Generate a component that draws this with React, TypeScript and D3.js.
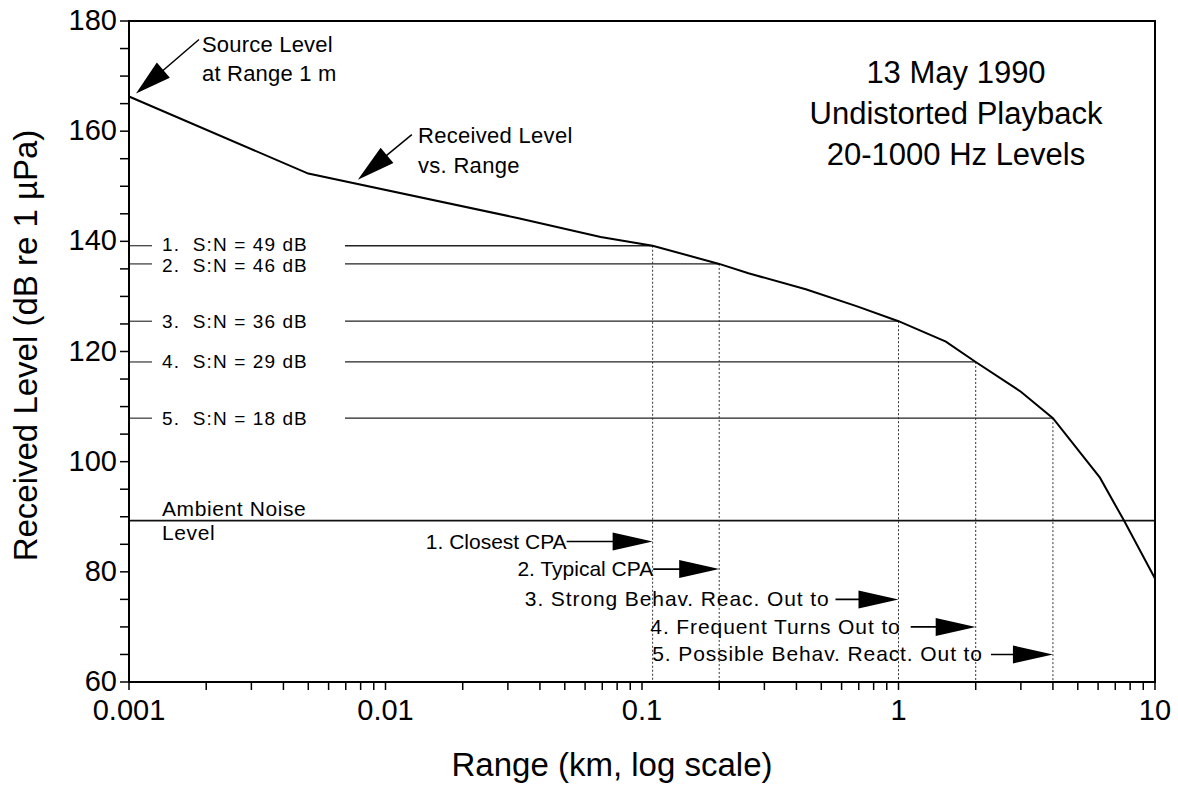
import React from "react";
import * as d3 from "d3";

// received level vs range
const rangeKm = [0.001, 0.005, 0.033, 0.069, 0.11, 0.2, 0.26, 0.435, 0.69, 1, 1.53, 2, 3, 4, 6.1, 7.57, 10];
const levelDb = [166.3, 152.3, 144.2, 140.8, 139.2, 135.9, 134.2, 131.3, 128.2, 125.5, 121.8, 118.1, 112.7, 107.9, 97.1, 89.3, 78.8];

const ambientDb = 89.3;

const snLabels = ["1.  S:N = 49 dB", "2.  S:N = 46 dB", "3.  S:N = 36 dB", "4.  S:N = 29 dB", "5.  S:N = 18 dB"];
const snLevels = [139.2, 135.9, 125.5, 118.1, 107.9];
const snRanges = [0.11, 0.2, 1, 2, 4];

const behavLabels = [
  "1. Closest CPA",
  "2. Typical CPA",
  "3. Strong Behav. Reac. Out to",
  "4. Frequent Turns Out to",
  "5. Possible Behav. React. Out to",
];
const behavLevels = [85.5, 80.5, 75, 70, 65];

const xTickValues = [0.001, 0.01, 0.1, 1, 10];
const xTickLabels = ["0.001", "0.01", "0.1", "1", "10"];
const yTickValues = [60, 80, 100, 120, 140, 160, 180];
const yTickLabels = ["60", "80", "100", "120", "140", "160", "180"];

const titleLines = ["13 May 1990", "Undistorted Playback", "20-1000 Hz Levels"];

const W = 1178;
const H = 786;
const FONT = "'Liberation Sans', Arial, Helvetica, sans-serif";
const PLOT = { left: 129, right: 1155, top: 21, bottom: 682 };

// arrow stub lengths / text gaps for the bottom annotations
const behavArrowLen = [86, 66, 63, 65, 62];
const behavGap = [0, 0, 6, 10, 8];
// small vertical nudges of the S:N labels (first two sit close together)
const snNudge = [-1.5, 2, 0, 0, 0];

function head(x1: number, y1: number, x2: number, y2: number, len: number, hw: number) {
  const dx = x2 - x1;
  const dy = y2 - y1;
  const d = Math.hypot(dx, dy);
  const ux = dx / d;
  const uy = dy / d;
  const bx = x2 - ux * len;
  const by = y2 - uy * len;
  return `${x2},${y2} ${bx - uy * hw},${by + ux * hw} ${bx + uy * hw},${by - ux * hw}`;
}

export default function App() {
  const x = d3.scaleLog().domain([0.001, 10]).range([PLOT.left, PLOT.right]);
  const y = d3.scaleLinear().domain([60, 180]).range([PLOT.bottom, PLOT.top]);

  const pts = rangeKm.map((r, i) => [r, levelDb[i]] as [number, number]);
  const curve = d3
    .line<[number, number]>()
    .x((d) => x(d[0]))
    .y((d) => y(d[1]))(pts);

  const minorX = x.ticks();
  const minorY = d3.range(60, 181, 5);

  // source level arrow
  const sTipX = x(rangeKm[0]) + 7;
  const sTipY = y(levelDb[0]) - 3;
  const sStartX = sTipX + 63;
  const sStartY = sTipY - 54;

  // received level arrow
  const rTipX = x(0.0078);
  const rTipY = y(151.2);
  const rStartX = rTipX + 54;
  const rStartY = rTipY - 45;

  return (
    <svg
      width={W}
      height={H}
      style={{ position: "absolute", left: 0, top: 0, background: "#fff" }}
      fontFamily={FONT}
    >
      <rect width={W} height={H} fill="#fff" />

      {/* ambient noise */}
      <line x1={PLOT.left} x2={PLOT.right} y1={y(ambientDb)} y2={y(ambientDb)} stroke="#111" strokeWidth={1.6} />
      <text x={162} y={y(ambientDb) - 5} fontSize={21} letterSpacing={0.6}>Ambient Noise</text>
      <text x={162} y={y(ambientDb) + 19} fontSize={21} letterSpacing={0.6}>Level</text>

      {/* S:N lines */}
      {snLevels.map((lv, i) => (
        <g key={"sn" + i}>
          <line x1={PLOT.left} x2={152} y1={y(lv)} y2={y(lv)} stroke="#222" strokeWidth={1.1} />
          <line x1={345} x2={x(snRanges[i])} y1={y(lv)} y2={y(lv)} stroke="#222" strokeWidth={1.3} />
          <line
            x1={x(snRanges[i])}
            x2={x(snRanges[i])}
            y1={y(lv)}
            y2={PLOT.bottom}
            stroke="#333"
            strokeWidth={1}
            strokeDasharray="2,2"
          />
          <text
            x={162}
            y={y(lv) + 6.5 + snNudge[i]}
            fontSize={19}
            letterSpacing={1.1}
            style={{ whiteSpace: "pre" }}
          >
            {snLabels[i]}
          </text>
        </g>
      ))}

      {/* behaviour annotations */}
      {behavLabels.map((lab, i) => {
        const tx = x(snRanges[i]);
        const ty = y(behavLevels[i]);
        const sx = tx - behavArrowLen[i];
        return (
          <g key={"b" + i}>
            <line x1={sx} x2={tx - 20} y1={ty} y2={ty} stroke="#000" strokeWidth={1.6} />
            <polygon points={head(sx, ty, tx, ty, 40, 9)} fill="#000" />
            <text x={sx - behavGap[i]} y={ty + 7} fontSize={21} letterSpacing={i < 2 ? 0 : 0.9} textAnchor="end">
              {lab}
            </text>
          </g>
        );
      })}

      {/* received level curve */}
      <path d={curve || ""} fill="none" stroke="#000" strokeWidth={2} />

      {/* source level annotation */}
      <line x1={sStartX} y1={sStartY} x2={sTipX + 20} y2={sTipY - 17} stroke="#000" strokeWidth={1.5} />
      <polygon points={head(sStartX, sStartY, sTipX, sTipY, 36, 10)} fill="#000" />
      <text x={202} y={52} fontSize={22} letterSpacing={0.2}>Source Level</text>
      <text x={202} y={81} fontSize={22} letterSpacing={0.2}>at Range 1 m</text>

      {/* received level annotation */}
      <line x1={rStartX} y1={rStartY} x2={rTipX + 20} y2={rTipY - 17} stroke="#000" strokeWidth={1.5} />
      <polygon points={head(rStartX, rStartY, rTipX, rTipY, 38, 10)} fill="#000" />
      <text x={418} y={143} fontSize={22} letterSpacing={0.3}>Received Level</text>
      <text x={418} y={173} fontSize={22} letterSpacing={0.3}>vs. Range</text>

      {/* title block */}
      {titleLines.map((t, i) => (
        <text key={t} x={956} y={83 + i * 41} fontSize={31} textAnchor="middle">
          {t}
        </text>
      ))}

      {/* frame */}
      <rect
        x={PLOT.left}
        y={PLOT.top}
        width={PLOT.right - PLOT.left}
        height={PLOT.bottom - PLOT.top}
        fill="none"
        stroke="#000"
        strokeWidth={2}
      />

      {/* x ticks */}
      {minorX.map((t, i) => (
        <line key={"xt" + i} x1={x(t)} x2={x(t)} y1={PLOT.bottom} y2={PLOT.bottom + 8} stroke="#000" strokeWidth={1.5} />
      ))}
      {xTickValues.map((t, i) => (
        <text key={"xl" + i} x={x(t)} y={720} fontSize={29} textAnchor="middle">
          {xTickLabels[i]}
        </text>
      ))}

      {/* y ticks */}
      {minorY.map((t) => (
        <line key={"yt" + t} x1={PLOT.left - 9} x2={PLOT.left} y1={y(t)} y2={y(t)} stroke="#000" strokeWidth={1.5} />
      ))}
      {yTickValues.map((t, i) => (
        <text key={"yl" + t} x={117} y={y(t) + 9} fontSize={29} textAnchor="end">
          {yTickLabels[i]}
        </text>
      ))}

      {/* axis titles */}
      <text x={612} y={776} fontSize={33} textAnchor="middle">
        Range (km, log scale)
      </text>
      <text
        transform={`translate(37,${(PLOT.top + PLOT.bottom) / 2 - 6}) rotate(-90)`}
        fontSize={33}
        textAnchor="middle"
      >
        Received Level (dB re 1 µPa)
      </text>
    </svg>
  );
}
